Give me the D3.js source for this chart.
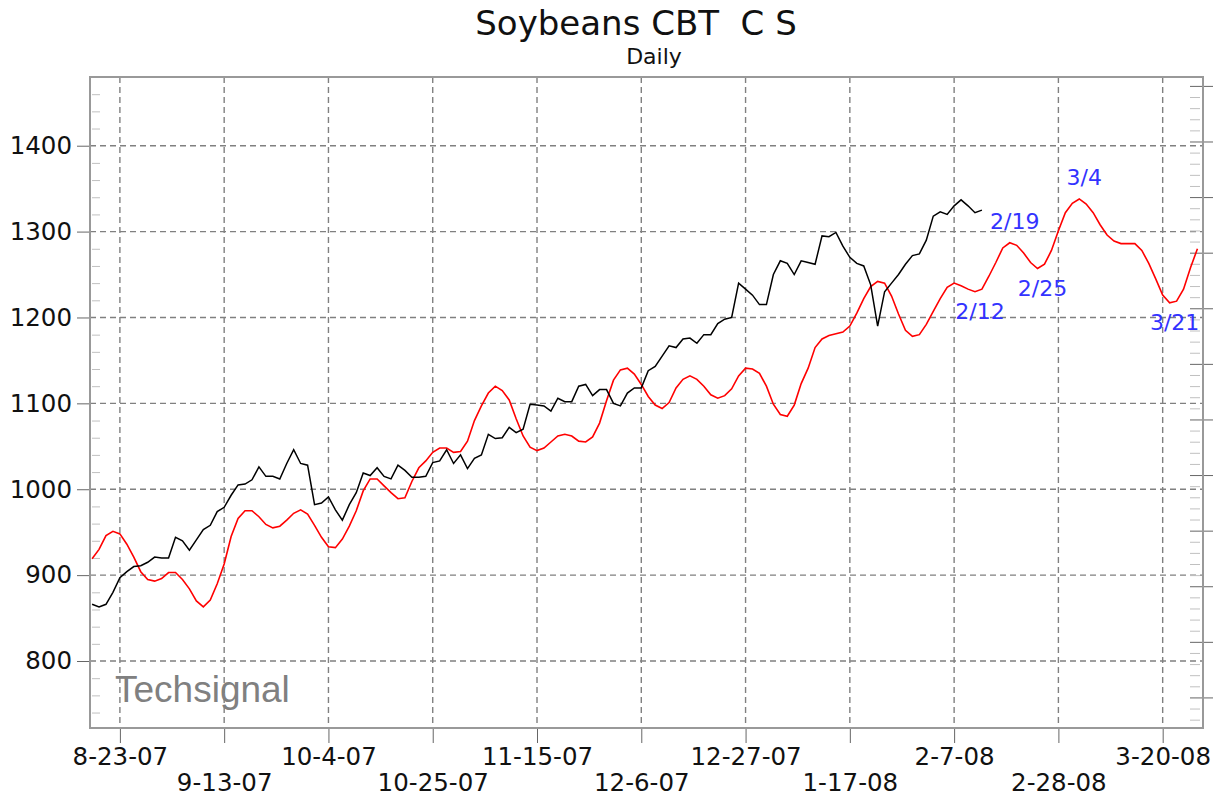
<!DOCTYPE html>
<html>
<head>
<meta charset="utf-8">
<script src="https://cdn.jsdelivr.net/npm/d3@7"></script>
<style>
body{margin:0;background:#fff}
svg text{font-family:"DejaVu Sans",Verdana,sans-serif}
</style>
</head>
<body>
<script>
////Chart data
//First trading day shown on the chart
var startDate = new Date(2007,7,17)

//Daily soybean closes (black line), one per trading day from startDate
var closes = [866,863,866,880,897,904,910,911,915,921,920,920,944,940,929,941,953,958,974,979,
    993,1005,1006,1011,1026,1015,1015,1012,1030,1046,1030,1028,982,984,991,976,964,982,996,1019,
    1016,1025,1015,1012,1028,1022,1014,1014,1015,1031,1033,1046,1030,1040,1024,1036,1040,1064,1059,1060,
    1072,1066,1070,1099,1098,1097,1091,1106,1102,1102,1120,1122,1109,1116,1116,1100,1097,1112,1118,1118,
    1138,1143,1155,1167,1165,1175,1176,1170,1180,1180,1193,1198,1200,1240,1233,1226,1215,1215,1250,1266,
    1263,1250,1266,1264,1262,1295,1294,1299,1283,1270,1263,1260,1238,1190,1230,1240,1250,1262,1272,1274,
    1290,1318,1323,1320,1330,1337,1330,1322,1325]

//Cycle projection (red line), one per trading day from startDate
var cycle = [919,930,946,951,948,936,921,904,895,893,896,903,903,895,884,870,863,871,890,913,
    945,966,975,975,968,959,955,957,964,972,976,971,958,944,933,932,942,957,975,998,
    1012,1012,1004,996,989,990,1009,1025,1033,1043,1048,1048,1043,1044,1056,1080,1097,1112,1120,1115,
    1104,1082,1062,1049,1045,1048,1055,1062,1064,1062,1056,1055,1061,1077,1103,1127,1139,1141,1134,1122,
    1108,1098,1094,1101,1118,1128,1132,1128,1120,1110,1106,1109,1117,1132,1141,1140,1135,1120,1099,1087,
    1085,1098,1123,1141,1165,1175,1179,1181,1183,1190,1205,1222,1236,1242,1240,1225,1204,1185,1178,1180,
    1192,1207,1222,1235,1240,1237,1233,1230,1233,1248,1264,1281,1287,1284,1275,1264,1257,1262,1278,1301,
    1322,1333,1338,1332,1322,1308,1296,1289,1286,1286,1286,1278,1263,1245,1226,1217,1219,1233,1258,1280]

//Date labels on the x axis
var dateLabels = ["8-23-07","9-13-07","10-4-07","10-25-07","11-15-07","12-6-07","12-27-07","1-17-08","2-7-08","2-28-08","3-20-08"]

//Price labels on the left axis
var priceTicks = [800,900,1000,1100,1200,1300,1400]

//Turning points of the cycle that are labelled
var turnLabels = ["2/12","2/19","2/25","3/4","3/21"]

////Trading days (weekdays) from the start date
var days = []
var d = new Date(startDate)
while(days.length < cycle.length){
    if(d.getDay()!=0 && d.getDay()!=6){ days.push(new Date(d)) }
    d.setDate(d.getDate()+1)
}
var fmtTick = d3.timeFormat("%-m-%-d-%y")
var fmtTurn = d3.timeFormat("%-m/%-d")
var tickIdx = dateLabels.map(function(l){ return days.findIndex(function(t){ return fmtTick(t)==l }) })

////Layout
var W = 1220, H = 799
var plotL = 90, plotR = 1203, plotT = 77, plotB = 728

var svg = d3.select("body").append("svg").attr("width",W).attr("height",H)

//Scales
var x = d3.scaleLinear().domain([-0.3,159.8]).range([plotL,plotR])
var y = d3.scaleLinear().domain([722,1480]).range([plotB,plotT])
var yR = d3.scaleLinear().domain([-27.5,558]).range([plotB,plotT]) //unlabelled right scale

////Title
svg.append("text").attr("x",636).attr("y",35).attr("text-anchor","middle")
    .style("white-space","pre").style("font-size","34px").attr("fill","#111").text("Soybeans CBT  C S")
svg.append("text").attr("x",654).attr("y",64).attr("text-anchor","middle")
    .style("font-size","22px").attr("fill","#111").text("Daily")

////Grid
var grid = svg.append("g").attr("stroke","#808080").attr("stroke-width",1.4).attr("stroke-dasharray","6,4")
grid.selectAll(".hg").data(priceTicks).enter().append("line")
    .attr("x1",plotL).attr("x2",plotR)
    .attr("y1",function(v){return y(v)}).attr("y2",function(v){return y(v)})
grid.selectAll(".vg").data(tickIdx).enter().append("line")
    .attr("y1",plotT).attr("y2",plotB)
    .attr("x1",function(i){return x(i)}).attr("x2",function(i){return x(i)})

////Watermark
svg.append("text").attr("x",115).attr("y",702)
    .style("font-family","'Liberation Sans',Arial,sans-serif").style("font-size","37px")
    .attr("fill","#808080").text("Techsignal")

////Axes
//Left axis with price labels
var yAxis = svg.append("g").attr("transform","translate("+plotL+",0)")
    .call(d3.axisLeft(y).tickValues(priceTicks).tickSizeInner(13).tickSizeOuter(0).tickPadding(5).tickFormat(d3.format("d")))
yAxis.select(".domain").remove()
yAxis.selectAll("line").attr("stroke","#666")
yAxis.selectAll("text").style("font-size","24.5px").attr("fill","#111")

//Left minor ticks (inside)
var minorL = d3.range(740,1480,20).filter(function(v){return v%100!=0})
var yMinor = svg.append("g").attr("transform","translate("+(plotL+2)+",0)")
    .call(d3.axisRight(y).tickValues(minorL).tickSize(8).tickFormat(""))
yMinor.select(".domain").remove()
yMinor.selectAll("line").attr("stroke","#c0c0c0")

//Right axis ticks (no labels)
var minorR = d3.range(-20,558,10).filter(function(v){return v%50!=0})
var rMinor = svg.append("g").attr("transform","translate("+(plotR-13)+",0)")
    .call(d3.axisRight(yR).tickValues(minorR).tickSize(10).tickFormat(""))
rMinor.select(".domain").remove()
rMinor.selectAll("line").attr("stroke","#c0c0c0")
var rMajor = svg.append("g").attr("transform","translate("+(plotR-13)+",0)")
    .call(d3.axisRight(yR).tickValues(d3.range(0,558,50)).tickSize(23).tickFormat(""))
rMajor.select(".domain").remove()
rMajor.selectAll("line").attr("stroke","#666")

//Bottom axis with dates on two rows
var xAxis = svg.append("g").attr("transform","translate(0,"+plotB+")")
    .call(d3.axisBottom(x).tickValues(tickIdx).tickSizeInner(15).tickSizeOuter(0)
        .tickFormat(function(i,k){return dateLabels[k]}))
xAxis.select(".domain").remove()
xAxis.selectAll("line").attr("stroke","#666")
xAxis.selectAll("text").style("font-size","24.5px").attr("fill","#111")
    .attr("dy",null).attr("y",function(i,k){return k%2==0 ? 37 : 63})

////Frame
svg.append("rect").attr("x",plotL).attr("y",plotT).attr("width",plotR-plotL).attr("height",plotB-plotT)
    .attr("fill","none").attr("stroke","#999").attr("stroke-width",2)

////Lines
var line = d3.line().x(function(v,i){return x(i)}).y(function(v){return y(v)})
svg.append("path").datum(cycle).attr("d",line)
    .attr("fill","none").attr("stroke","#ff0000").attr("stroke-width",1.6)
svg.append("path").datum(closes).attr("d",line)
    .attr("fill","none").attr("stroke","#000").attr("stroke-width",1.5)

////Turning point labels
turnLabels.forEach(function(l){
    var i = days.findIndex(function(t){ return fmtTurn(t)==l })
    var low = cycle[i] < cycle[i-1] //trough gets its label below
    svg.append("text").attr("x",x(i)+5).attr("y",y(cycle[i])+(low ? 27 : -14))
        .attr("text-anchor","middle").style("font-size","22px").attr("fill","#3333ff").text(l)
})
</script>
</body>
</html>
